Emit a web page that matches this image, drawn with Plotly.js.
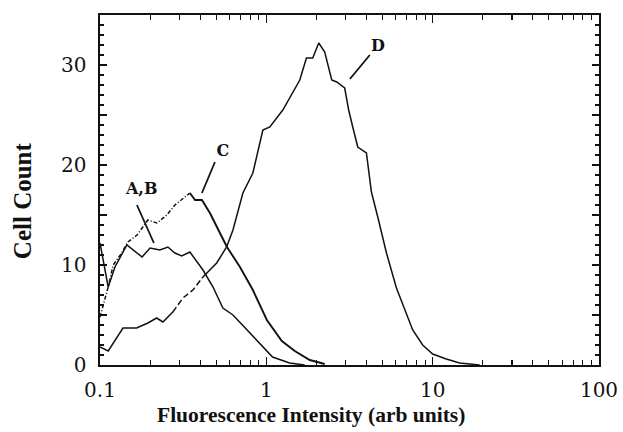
<!DOCTYPE html>
<html>
<head>
<meta charset="utf-8">
<script src="https://cdn.plot.ly/plotly-3.0.1.min.js"></script>
<style>html,body{margin:0;padding:0;background:#fff;}#chart{width:623px;height:432px;}</style>
</head>
<body>
<div id="chart"></div>
<script>
// Curve A,B
const abX = [0.1, 0.112, 0.123, 0.145, 0.179, 0.2, 0.229, 0.256, 0.282, 0.31, 0.347, 0.416, 0.478, 0.548, 0.63, 0.764, 0.914, 1.09, 1.38, 1.7];
const abY = [12.2, 7.8, 9.8, 12.0, 10.8, 11.7, 11.5, 11.8, 11.2, 10.9, 11.3, 9.5, 7.8, 5.7, 5.0, 3.5, 2.2, 0.8, 0.2, 0.0];
// Curve C: dash-dot part then solid part
const cDashX = [0.1, 0.112, 0.12, 0.135, 0.147, 0.167, 0.194, 0.22, 0.252, 0.282, 0.347];
const cDashY = [4.8, 7.8, 10.0, 11.2, 12.3, 13.0, 14.5, 14.2, 15.0, 16.0, 17.2];
const cSolidX = [0.347, 0.373, 0.41, 0.458, 0.526, 0.58, 0.694, 0.83, 1.007, 1.239, 1.483, 1.824, 2.244];
const cSolidY = [17.2, 16.5, 16.5, 15.2, 13.2, 11.8, 9.8, 7.5, 4.5, 2.4, 1.4, 0.5, 0.1];
// Curve D: solid, dashed segment, solid
const d1X = [0.1, 0.112, 0.1375, 0.166, 0.194, 0.219, 0.239, 0.274];
const d1Y = [1.8, 1.4, 3.7, 3.7, 4.2, 4.7, 4.3, 5.3];
const d2X = [0.274, 0.315, 0.362, 0.416];
const d2Y = [5.3, 6.7, 7.5, 8.8];
const d3X = [0.416, 0.503, 0.577, 0.63, 0.723, 0.83, 0.953, 1.05, 1.256, 1.443, 1.589, 1.742, 1.901, 2.066, 2.244, 2.473, 2.65, 2.958, 3.126, 3.308, 3.545, 3.997, 4.283, 4.677, 5.275, 6.056, 6.953, 7.586, 8.71, 10.0, 12.08, 14.52, 19.15];
const d3Y = [8.8, 10.2, 11.8, 13.5, 17.2, 19.2, 23.5, 23.8, 25.5, 27.2, 28.5, 30.7, 30.7, 32.2, 31.3, 28.5, 28.3, 27.7, 25.5, 23.8, 21.8, 21.2, 17.3, 14.8, 11.2, 7.7, 5.0, 3.5, 2.0, 1.1, 0.6, 0.2, 0.0];
// Labels and leader lines
const labelText = ["A,B", "C", "D"];
const labelX = [0.178, 0.548, 4.68];
const labelY = [17.5, 21.3, 31.8];
const leaderAB_X = [0.1667, 0.2109], leaderAB_Y = [16.0, 12.2];
const leaderC_X = [0.491, 0.410], leaderC_Y = [20.3, 17.2];
const leaderD_X = [4.19, 3.18], leaderD_Y = [31.0, 28.6];
// Axis ticks
const xTickVals = [0.1, 1, 10, 100];
const xTickText = ["0.1", "1", "10", "100"];
const xMinorVals = [0.2, 0.3, 0.4, 0.5, 0.6, 0.7, 0.8, 0.9, 2, 3, 4, 5, 6, 7, 8, 9, 20, 30, 40, 50, 60, 70, 80, 90];
const yTickVals = [0, 5, 10, 15, 20, 25, 30, 35];
const yTickText = ["0", "", "10", "", "20", "", "30", ""];

const serif = "Liberation Serif, Times New Roman, serif";
const tickSerif = "DejaVu Serif, serif";
const blk = "#111";
function line(x, y, dash, w) {
  return {x: x, y: y, type: "scatter", mode: "lines", line: {color: blk, width: w || 1.5, dash: dash || "solid"}, hoverinfo: "skip", showlegend: false};
}
const traces = [
  line(abX, abY),
  line(cDashX, cDashY, "4px,2px,1px,2px"),
  line(cSolidX, cSolidY, "solid", 1.9),
  line(d1X, d1Y),
  line(d2X, d2Y, "6px,3px"),
  line(d3X, d3Y),
  line(leaderAB_X, leaderAB_Y, "solid", 1.8),
  line(leaderC_X, leaderC_Y, "solid", 1.8),
  line(leaderD_X, leaderD_Y, "solid", 1.8),
  {x: labelX, y: labelY, text: labelText, type: "scatter", mode: "text", textfont: {family: tickSerif, size: 16, color: blk, weight: "bold"}, hoverinfo: "skip", showlegend: false}
];
const layout = {
  width: 623, height: 432,
  margin: {l: 100, r: 24, t: 15, b: 67},
  paper_bgcolor: "#fff", plot_bgcolor: "#fff",
  showlegend: false,
  font: {family: serif, color: blk, size: 20},
  xaxis: {
    type: "log", range: [-1, 2], tickvals: xTickVals, ticktext: xTickText,
    ticks: "inside", ticklen: 8, tickwidth: 1.3, tickcolor: blk,
    showline: true, linecolor: blk, linewidth: 1.6, mirror: "allticks",
    showgrid: false, zeroline: false, ticklabelstandoff: 6,
    tickfont: {family: tickSerif, size: 20, color: blk},
    minor: {tickvals: xMinorVals, ticks: "inside", ticklen: 5, tickwidth: 1.1, tickcolor: blk, showgrid: false}
  },
  yaxis: {
    range: [0, 35], tickvals: yTickVals, ticktext: yTickText,
    ticks: "inside", ticklen: 7, tickwidth: 1.3, tickcolor: blk,
    showline: true, linecolor: blk, linewidth: 1.6, mirror: "allticks",
    showgrid: false, zeroline: false, ticklabelstandoff: 8,
    tickfont: {family: tickSerif, size: 20, color: blk},
    minor: {dtick: 1, ticks: "inside", ticklen: 4, tickwidth: 1.1, tickcolor: blk, showgrid: false}
  },
  annotations: [
    {text: "<b>Fluorescence Intensity (arb units)</b>", xref: "paper", yref: "paper", x: 0.4228, y: -0.143, xanchor: "center", yanchor: "middle", showarrow: false, font: {family: serif, size: 21.5, color: blk}},
    {text: "<b>Cell Count</b>", xref: "paper", yref: "paper", x: -0.155, y: 0.47, xanchor: "center", yanchor: "middle", textangle: -90, showarrow: false, font: {family: serif, size: 25, color: blk}}
  ]
};
Plotly.newPlot("chart", traces, layout, {displayModeBar: false, staticPlot: true});
</script>
</body>
</html>
